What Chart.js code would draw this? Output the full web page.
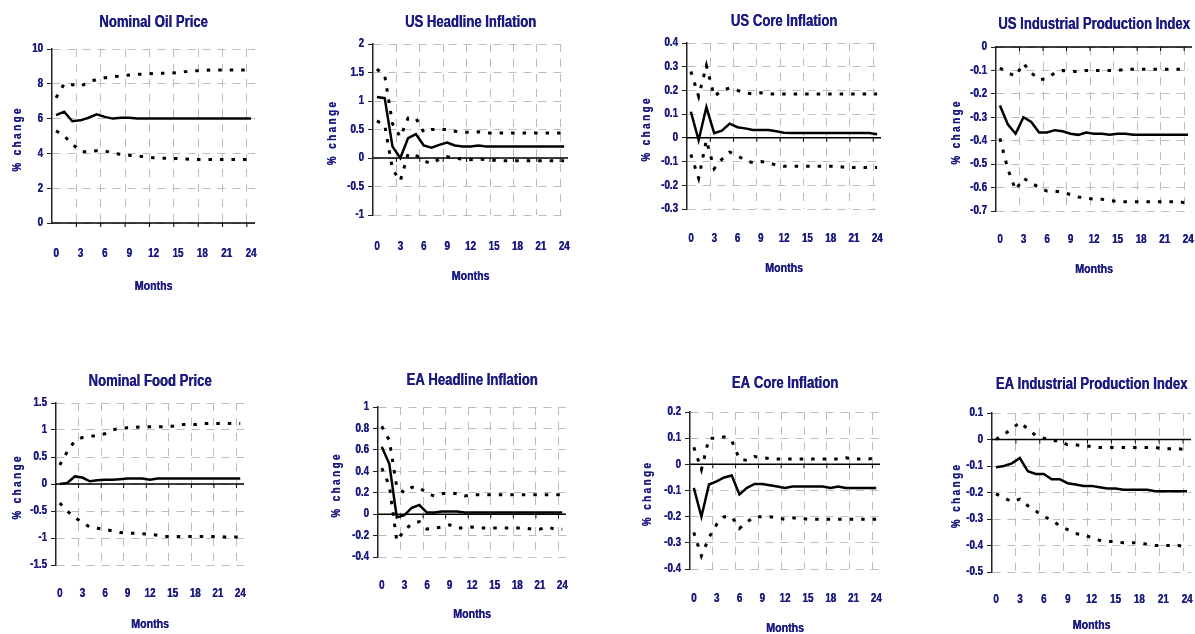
<!DOCTYPE html>
<html>
<head>
<meta charset="utf-8">
<title>Respuestas a un choque</title>
<script src="https://cdn.jsdelivr.net/npm/chart.js@4.4.1/dist/chart.umd.min.js"></script>
<style>
    html, body { margin: 0; padding: 0; background: #fff; overflow: hidden; }
    #lienzo { position: relative; width: 1195px; height: 634px; }
    .panel { position: absolute; }
</style>
</head>
<body>
<div id="lienzo"></div>
<script>
// meses del horizonte (eje x)
var meses = [0, 1, 2, 3, 4, 5, 6, 7, 8, 9, 10, 11, 12, 13, 14, 15, 16, 17, 18, 19, 20, 21, 22, 23, 24];

var titulos = ['Nominal Oil Price', 'US Headline Inflation', 'US Core Inflation', 'US Industrial Production Index',
               'Nominal Food Price', 'EA Headline Inflation', 'EA Core Inflation', 'EA Industrial Production Index'];

// ejes y: minimo, maximo, paso de las etiquetas
var ejeMin  = [0, -1, -0.3, -0.7, -1.5, -0.4, -0.4, -0.5];
var ejeMax  = [10, 2, 0.4, 0, 1.5, 1, 0.2, 0.1];
var ejePaso = [2, 0.5, 0.1, 0.1, 0.5, 0.2, 0.1, 0.1];

var oilMid = [6.2, 6.4, 5.85, 5.9, 6.05, 6.25, 6.1, 6.0, 6.05, 6.05, 6.0, 6.0, 6.0, 6.0, 6.0, 6.0, 6.0, 6.0, 6.0, 6.0, 6.0, 6.0, 6.0, 6.0, 6.0];
var oilUp  = [7.2, 8.0, 7.95, 7.85, 8.1, 8.25, 8.35, 8.4, 8.45, 8.5, 8.55, 8.55, 8.6, 8.6, 8.6, 8.65, 8.7, 8.75, 8.75, 8.8, 8.8, 8.8, 8.8, 8.8, 8.8];
var oilLow = [5.3, 5.0, 4.55, 4.1, 4.1, 4.15, 4.15, 4.0, 3.95, 3.9, 3.85, 3.8, 3.75, 3.72, 3.72, 3.7, 3.68, 3.65, 3.65, 3.65, 3.65, 3.65, 3.65, 3.65, 3.65];

var usHeadMid = [1.07, 1.05, 0.2, 0.0, 0.35, 0.42, 0.22, 0.18, 0.23, 0.27, 0.22, 0.2, 0.2, 0.22, 0.2, 0.2, 0.2, 0.2, 0.2, 0.2, 0.2, 0.2, 0.2, 0.2, 0.2];
var usHeadUp  = [1.56, 1.45, 0.6, 0.37, 0.7, 0.7, 0.45, 0.5, 0.5, 0.5, 0.47, 0.45, 0.45, 0.46, 0.44, 0.44, 0.44, 0.44, 0.44, 0.44, 0.44, 0.44, 0.44, 0.44, 0.44];
var usHeadLow = [0.65, 0.58, -0.2, -0.4, 0.07, 0.05, -0.05, -0.1, -0.02, 0.02, 0.0, -0.02, -0.03, -0.02, -0.03, -0.04, -0.05, -0.05, -0.05, -0.05, -0.05, -0.05, -0.05, -0.05, -0.05];

var usCoreMid = [0.11, -0.01, 0.13, 0.02, 0.03, 0.06, 0.045, 0.04, 0.033, 0.033, 0.033, 0.028, 0.022, 0.02, 0.02, 0.02, 0.02, 0.02, 0.02, 0.02, 0.02, 0.02, 0.02, 0.02, 0.015];
var usCoreUp  = [0.28, 0.175, 0.305, 0.175, 0.2, 0.21, 0.2, 0.19, 0.185, 0.19, 0.185, 0.185, 0.185, 0.185, 0.185, 0.185, 0.185, 0.185, 0.185, 0.185, 0.185, 0.185, 0.185, 0.185, 0.185];
var usCoreLow = [-0.07, -0.17, -0.01, -0.13, -0.09, -0.06, -0.075, -0.095, -0.105, -0.1, -0.105, -0.115, -0.12, -0.12, -0.12, -0.12, -0.12, -0.12, -0.12, -0.12, -0.125, -0.125, -0.125, -0.125, -0.125];

var usIpMid = [-0.25, -0.33, -0.37, -0.3, -0.32, -0.365, -0.365, -0.355, -0.36, -0.37, -0.375, -0.365, -0.37, -0.37, -0.375, -0.37, -0.37, -0.375, -0.375, -0.375, -0.375, -0.375, -0.375, -0.375, -0.375];
var usIpUp  = [-0.09, -0.11, -0.125, -0.07, -0.11, -0.14, -0.135, -0.11, -0.1, -0.105, -0.105, -0.1, -0.1, -0.1, -0.1, -0.1, -0.095, -0.095, -0.095, -0.095, -0.095, -0.095, -0.095, -0.095, -0.095];
var usIpLow = [-0.39, -0.52, -0.61, -0.56, -0.58, -0.6, -0.615, -0.615, -0.62, -0.63, -0.64, -0.645, -0.65, -0.65, -0.655, -0.66, -0.66, -0.66, -0.66, -0.66, -0.66, -0.66, -0.66, -0.66, -0.67];

var foodMid = [0.0, 0.02, 0.14, 0.12, 0.05, 0.07, 0.08, 0.08, 0.09, 0.1, 0.1, 0.1, 0.08, 0.1, 0.1, 0.1, 0.1, 0.1, 0.1, 0.1, 0.1, 0.1, 0.1, 0.1, 0.1];
var foodUp  = [0.35, 0.6, 0.8, 0.86, 0.88, 0.9, 0.93, 1.0, 1.03, 1.04, 1.05, 1.06, 1.06, 1.06, 1.06, 1.07, 1.1, 1.1, 1.1, 1.12, 1.12, 1.12, 1.12, 1.12, 1.12];
var foodLow = [-0.35, -0.5, -0.62, -0.71, -0.8, -0.82, -0.84, -0.87, -0.9, -0.91, -0.91, -0.92, -0.93, -0.95, -0.97, -0.97, -0.97, -0.97, -0.97, -0.97, -0.97, -0.97, -0.98, -0.98, -0.98];

var eaHeadMid = [0.63, 0.47, -0.03, -0.01, 0.06, 0.085, 0.015, 0.015, 0.025, 0.025, 0.025, 0.015, 0.015, 0.015, 0.015, 0.015, 0.015, 0.015, 0.015, 0.015, 0.015, 0.015, 0.015, 0.015, 0.015];
var eaHeadUp  = [0.82, 0.69, 0.25, 0.2, 0.25, 0.25, 0.19, 0.17, 0.19, 0.2, 0.19, 0.17, 0.18, 0.18, 0.18, 0.18, 0.18, 0.18, 0.18, 0.18, 0.18, 0.18, 0.18, 0.18, 0.18];
var eaHeadLow = [0.43, 0.27, -0.25, -0.15, -0.09, -0.07, -0.14, -0.13, -0.12, -0.1, -0.13, -0.13, -0.12, -0.13, -0.13, -0.13, -0.13, -0.13, -0.13, -0.13, -0.14, -0.14, -0.12, -0.14, -0.14];

var eaCoreMid = [-0.09, -0.2, -0.077, -0.065, -0.05, -0.043, -0.115, -0.09, -0.075, -0.075, -0.08, -0.085, -0.09, -0.085, -0.085, -0.085, -0.085, -0.085, -0.09, -0.085, -0.09, -0.09, -0.09, -0.09, -0.09];
var eaCoreUp  = [0.065, -0.02, 0.1, 0.1, 0.105, 0.09, 0.02, 0.015, 0.03, 0.025, 0.022, 0.02, 0.02, 0.02, 0.02, 0.02, 0.02, 0.02, 0.02, 0.02, 0.025, 0.02, 0.02, 0.02, 0.025];
var eaCoreLow = [-0.26, -0.35, -0.28, -0.23, -0.2, -0.2, -0.245, -0.22, -0.2, -0.2, -0.2, -0.205, -0.21, -0.205, -0.205, -0.21, -0.21, -0.21, -0.21, -0.21, -0.21, -0.21, -0.21, -0.21, -0.21];

var eaIpMid = [-0.105, -0.1, -0.09, -0.07, -0.12, -0.13, -0.13, -0.15, -0.15, -0.165, -0.17, -0.175, -0.175, -0.18, -0.185, -0.185, -0.19, -0.19, -0.19, -0.19, -0.195, -0.195, -0.195, -0.195, -0.195];
var eaIpUp  = [0.0, 0.02, 0.04, 0.065, 0.04, 0.015, 0.005, -0.005, -0.005, -0.02, -0.02, -0.025, -0.025, -0.03, -0.03, -0.03, -0.03, -0.03, -0.03, -0.03, -0.03, -0.035, -0.035, -0.035, -0.04];
var eaIpLow = [-0.205, -0.22, -0.235, -0.225, -0.25, -0.27, -0.29, -0.305, -0.325, -0.34, -0.355, -0.36, -0.37, -0.38, -0.385, -0.385, -0.39, -0.39, -0.39, -0.395, -0.4, -0.4, -0.4, -0.4, -0.41];

var series = [
    [oilMid, oilUp, oilLow],
    [usHeadMid, usHeadUp, usHeadLow],
    [usCoreMid, usCoreUp, usCoreLow],
    [usIpMid, usIpUp, usIpLow],
    [foodMid, foodUp, foodLow],
    [eaHeadMid, eaHeadUp, eaHeadLow],
    [eaCoreMid, eaCoreUp, eaCoreLow],
    [eaIpMid, eaIpUp, eaIpLow]
];

// ubicacion de cada panel en la pagina: area de trazado, lineas de texto y rotulo vertical
var cajas = [
    { L: 52,  R: 255,  T: 49,  B: 223, tY: 23,  lY: 253, mY: 286, pX: 18 },
    { L: 373, R: 568,  T: 44,  B: 215, tY: 23,  lY: 246, mY: 276, pX: 333 },
    { L: 687, R: 881,  T: 43,  B: 209, tY: 22,  lY: 238, mY: 268, pX: 647 },
    { L: 996, R: 1192, T: 47,  B: 211, tY: 25,  lY: 239, mY: 269, pX: 957 },
    { L: 56,  R: 244,  T: 403, B: 565, tY: 382, lY: 593, mY: 624, pX: 18 },
    { L: 378, R: 566,  T: 407, B: 557, tY: 381, lY: 585, mY: 614, pX: 337 },
    { L: 690, R: 880,  T: 412, B: 569, tY: 384, lY: 598, mY: 628, pX: 648 },
    { L: 992, R: 1191, T: 413, B: 572, tY: 385, lY: 599, mY: 625, pX: 957 }
];

var azul = '#1a1a80';
var gris = '#bdbdbd';
var fuente = "'Liberation Sans', Arial, sans-serif";
var estrecho = 0.82;   // letra angosta, como la del original

Chart.defaults.font.family = fuente;
Chart.defaults.color = azul;

// todos los textos del lienzo se dibujan comprimidos a lo ancho y algo mas gruesos
var letraAngosta = {
    id: 'letraAngosta',
    beforeInit: function(chart)
    {
        var ctx = chart.ctx;
        var original = ctx.fillText.bind(ctx);
        ctx.fillText = function(texto, x, y, maxAncho)
        {
            ctx.save();
            ctx.translate(x, y);
            ctx.scale(estrecho, 1);
            if (maxAncho === undefined)
            {
                original(texto, 0, 0);
                original(texto, 0.4, 0);
            }
            else
            {
                original(texto, 0, 0, maxAncho / estrecho);
                original(texto, 0.4, 0, maxAncho / estrecho);
            }
            ctx.restore();
        };
    }
};

// linea del cero con sus marcas, y el rotulo vertical del eje y
var ejeCero = {
    id: 'ejeCero',
    beforeDatasetsDraw: function(chart)
    {
        var ctx = chart.ctx;
        var area = chart.chartArea;
        var sx = chart.scales.x;
        var y0 = chart.scales.y.getPixelForValue(0);

        ctx.save();
        ctx.strokeStyle = '#000';
        ctx.lineWidth = 1.5;
        ctx.beginPath();
        ctx.moveTo(area.left, y0);
        ctx.lineTo(area.right, y0);
        ctx.stroke();

        ctx.lineWidth = 1;
        for (var i = 3; i < meses.length; i += 3)
        {
            var x = (sx.getPixelForValue(i) + sx.getPixelForValue(i - 1)) / 2;
            ctx.beginPath();
            ctx.moveTo(x, y0);
            ctx.lineTo(x, y0 + 4);
            ctx.stroke();
        }
        ctx.restore();
    },
    afterDraw: function(chart)
    {
        var ctx = chart.ctx;
        var area = chart.chartArea;
        var c = chart.options.plugins.ejeCero;
        ctx.save();
        ctx.translate(area.left - c.sep, (area.top + area.bottom) / 2 + 3);
        ctx.rotate(-Math.PI / 2);
        ctx.font = 'bold 12px ' + fuente;
        ctx.fillStyle = azul;
        ctx.textAlign = 'center';
        ctx.textBaseline = 'middle';
        ctx.letterSpacing = '3px';
        ctx.fillText('% change', 0, 0);
        ctx.restore();
    }
};

function etiquetaY(valor)
{
    return String(Math.round(valor * 100) / 100);
}

function crearPanel(i)
{
    var c = cajas[i];
    var anchoY = 52;
    var padDer = 6;
    var altoTitulo = 16 * 1.2;

    var izq = c.L - anchoY;
    var arriba = Math.round(c.tY - 4 - altoTitulo / 2);
    var ancho = anchoY + (c.R - c.L) + padDer;
    var alto = c.mY + 12 - arriba;
    var altoX = c.mY + 12 - c.B;

    var caja = document.createElement('div');
    caja.className = 'panel';
    caja.style.left = izq + 'px';
    caja.style.top = arriba + 'px';
    var canvas = document.createElement('canvas');
    canvas.width = ancho;
    canvas.height = alto;
    caja.appendChild(canvas);
    document.getElementById('lienzo').appendChild(caja);

    var datos = series[i];

    new Chart(canvas.getContext('2d'), {
        type: 'line',
        data: {
            labels: meses,
            datasets: [
                {
                    data: datos[0],
                    borderColor: '#000',
                    borderWidth: 2.5,
                    pointRadius: 0,
                    tension: 0
                },
                {
                    data: datos[1],
                    borderColor: '#000',
                    borderWidth: 3,
                    borderDash: [3.5, 8],
                    pointRadius: 0,
                    tension: 0
                },
                {
                    data: datos[2],
                    borderColor: '#000',
                    borderWidth: 3,
                    borderDash: [3.5, 8],
                    pointRadius: 0,
                    tension: 0
                }
            ]
        },
        options: {
            responsive: false,
            animation: false,
            layout: {
                padding: { left: 0, right: padDer, top: 0, bottom: 0 }
            },
            plugins: {
                legend: { display: false },
                tooltip: { enabled: false },
                ejeCero: { sep: c.L - c.pX },
                title: {
                    display: true,
                    fullSize: false,
                    text: titulos[i],
                    color: azul,
                    font: { size: 16, weight: 'bold' },
                    padding: { top: 4, bottom: c.T - arriba - 4 - altoTitulo }
                }
            },
            scales: {
                x: {
                    type: 'category',
                    offset: true,
                    afterFit: function(scale)
                    {
                        scale.height = altoX;
                        scale.paddingLeft = 0;
                        scale.paddingRight = 0;
                    },
                    grid: {
                        offset: true,
                        drawTicks: false,
                        color: function(ctx)
                        {
                            return (ctx.index > 0 && ctx.index % 3 === 0 && ctx.index < meses.length) ? gris : 'rgba(0,0,0,0)';
                        }
                    },
                    border: { display: false, dash: [8, 7] },
                    ticks: {
                        autoSkip: false,
                        maxRotation: 0,
                        padding: c.lY - c.B - 7,
                        color: azul,
                        font: { size: 12, weight: 'bold' },
                        callback: function(val, idx)
                        {
                            return idx % 3 === 0 ? this.getLabelForValue(val) : '';
                        }
                    },
                    title: {
                        display: true,
                        text: 'Months',
                        color: azul,
                        font: { size: 13, weight: 'bold' },
                        padding: { top: 0, bottom: 4 }
                    }
                },
                y: {
                    min: ejeMin[i],
                    max: ejeMax[i],
                    afterFit: function(scale) { scale.width = anchoY; },
                    grid: {
                        color: gris,
                        drawTicks: true,
                        tickLength: 5,
                        tickColor: '#222',
                        tickWidth: 1
                    },
                    border: { display: true, color: '#222', width: 1.5, dash: [8, 7] },
                    ticks: {
                        stepSize: ejePaso[i],
                        padding: 4,
                        color: azul,
                        font: { size: 12, weight: 'bold' },
                        callback: etiquetaY
                    }
                }
            }
        },
        plugins: [letraAngosta, ejeCero]
    });
}

for (var k = 0; k < titulos.length; k++)
{
    crearPanel(k);
}
</script>
</body>
</html>
